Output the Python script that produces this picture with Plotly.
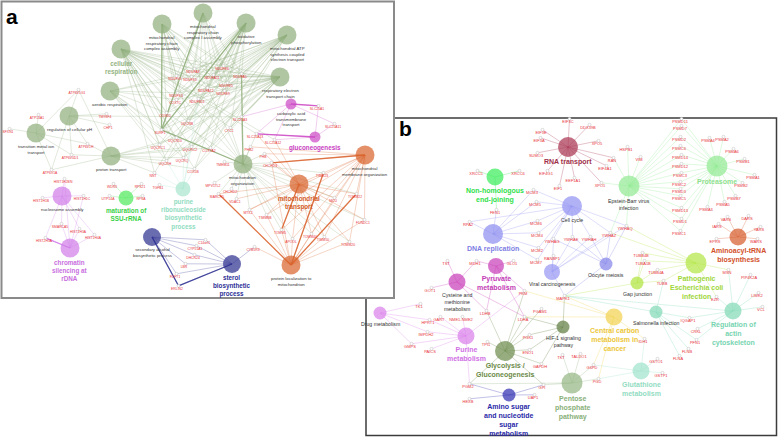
import plotly.graph_objects as go

# ================= PANEL a : GO biological process network =================
A_TERMS = [
    "mitochondrial<br>respiratory chain<br>complex assembly",
    "mitochondrial<br>respiratory chain<br>complex I assembly",
    "oxidative<br>phosphorylation",
    "mitochondrial ATP<br>synthesis coupled<br>electron transport",
    "respiratory electron<br>transport chain",
    "cellular<br>respiration",
    "aerobic respiration",
    "regulation of cellular pH",
    "transition metal ion<br>transport",
    "proton transport",
    "mitochondrion<br>organization",
    "carboxylic acid<br>transmembrane<br>transport",
    "gluconeogenesis",
    "mitochondrial<br>membrane organization",
    "mitochondrial<br>transport",
    "protein localization to<br>mitochondrion",
    "sterol<br>biosynthetic<br>process",
    "secondary alcohol<br>biosynthetic process",
    "nucleosome assembly",
    "chromatin<br>silencing at<br>rDNA",
    "maturation of<br>SSU-rRNA",
    "purine<br>ribonucleoside<br>biosynthetic<br>process",
]
A_GROUP = ["resp"] * 11 + ["gluc", "gluc", "mito", "mito", "mito", "sterol", "sterol",
                           "chrom", "chrom", "ssu", "pur"]
A_LEAD = [False, False, False, False, False, True, False, False, False, False, False,
          False, True, False, True, False, True, False, False, True, True, True]

NDUF = ["NDUFA8", "NDUFB6", "NDUFS1", "NDUFA11", "NDUFA5", "NDUFB5", "NDUFA12",
        "NDUFB9", "NDUFB11", "NDUFV1", "NDUFS3"]
CIII_IV = ["COX7C", "COX6C", "UQCRB", "SURF1", "UQCR10", "UQCRC1", "UQCRC2", "COX7A2",
           "CYC1", "UQCRH", "UQCRQ", "COX5B"]
VATP = ["ATP6V1G1", "ATP6V1H", "ATP6V0D1", "ATP6V1A"]
IMPORT = ["TIMM23", "MCU", "TOMM22", "FUNDC1", "TOMM20", "TIMM50", "TOMM40", "APOOL",
          "TOMM5", "TIMM8B", "MTX2"]
A_MEMBERS = [
    ["SURF1"] + NDUF + ["COX7C", "UQCRB", "COX6C"],
    NDUF + ["SURF1"],
    NDUF + CIII_IV + ["NNT"],
    NDUF + CIII_IV,
    NDUF + CIII_IV + ["SLC25A3"],
    NDUF + CIII_IV + ["SLC25A12", "SLC25A13", "NNT"],
    ["SURF1", "UQCRC1", "UQCR10", "UQCRH", "COX6C", "NDUFS1", "NDUFV1", "NDUFS3", "COX7C", "UQCRQ"],
    ["ATP6V1G1", "TM9SF4", "CHP1", "ATP6V1H", "ATP6V0D1", "ATP6V1A", "SLC25A3"],
    ["ATP13A1", "SFXN1", "ATP6V1G1", "ATP6V1H", "ATP6V0D1", "ATP6V1A"],
    VATP + ["NNT", "UQCRH", "UQCRQ", "COX5B", "UQCR10", "UQCRC1", "COX7A2", "UQCRC2"],
    ["PHB", "PHB2", "CHCHD3", "TMEM11", "MPV17L2", "CHCHD2", "MARCH5", "VDAC1", "SURF1",
     "SLC25A3", "CYC1", "SLC25A13"] + IMPORT + ["NDUFB11", "NDUFA12", "NDUFS3", "COX6C"],
    ["SLC25A1", "SLC25A11", "SLC25A13", "SLC25A12", "SLC25A3"],
    ["SLC25A1", "SLC25A11", "SLC25A13", "SLC25A12"],
    ["CHCHD3", "PHB", "PHB2"] + IMPORT,
    IMPORT + ["CHCHD3", "PHB", "MARCH5", "SLC25A12", "SLC25A13", "VDAC1"],
    IMPORT + ["MARCH5", "CYB5R3", "CHCHD3"],
    ["C14orf1", "CYP51A1", "DHCR24", "LBR", "FDFT1", "ERLIN2", "CYB5R3"],
    ["C14orf1", "CYP51A1", "DHCR24", "LBR", "FDFT1", "ERLIN2"],
    ["HIST1H2BN", "HIST1H1B", "HIST1H1C", "SMARCA5", "HIST1H3A", "HIST2H3A", "HIST1H4A"],
    ["SMARCA5", "HIST1H3A", "HIST2H3A", "HIST1H4A", "HIST1H2BN", "HIST1H1C"],
    ["WDR3", "RPS21", "UTP14A", "RPSA"],
    ["TGFB1", "NNT", "UQCRH", "UQCRQ", "COX5B", "UQCRC2", "NDUFB11"],
]
A_STRONG = [(0, "SURF1"), (1, "SURF1"), (2, "SURF1"), (10, "SURF1"), (10, "NDUFA5"),
            (13, "CHCHD3"), (15, "MARCH5"), (15, "TOMM22"), (15, "TIMM23"), (14, "TOMM5"),
            (16, "ERLIN2"), (17, "ERLIN2"), (19, "HIST2H3A"), (11, "SLC25A1"), (12, "SLC25A13")]

# layout (pixel positions of the published network)
A_TERM_POS = [(162, 24), (203, 13), (246, 23), (287, 35), (280, 77), (121, 49), (110, 91),
              (69, 116), (36, 133), (111, 156), (243, 164), (291, 104), (315, 137),
              (365, 155), (299, 184), (291, 265), (232, 264), (152, 237), (62, 196),
              (70, 248), (126, 198), (183, 189)]
A_TERM_SIZE = [19, 19, 19, 19, 19, 19, 19, 19, 19, 19, 19, 11, 11, 19, 19, 19, 18, 18,
               19, 19, 15, 15]
A_GENE_POS = {
    "ATP6V1G1": (77, 93), "ATP13A1": (37, 118), "SFXN1": (8, 132), "TM9SF4": (105, 117),
    "CHP1": (108, 128), "ATP6V1H": (86, 147), "ATP6V0D1": (70, 158), "ATP6V1A": (50, 173),
    "HIST1H2BN": (63, 182), "HIST1H1B": (41, 201), "HIST1H1C": (82, 199),
    "SMARCA5": (60, 227), "HIST1H3A": (78, 232), "HIST2H3A": (44, 241),
    "HIST1H4A": (93, 238), "WDR3": (112, 187), "RPS21": (140, 187), "UTP14A": (108, 199),
    "RPSA": (141, 199), "TGFB1": (158, 188), "NNT": (153, 176), "UQCRH": (165, 164),
    "UQCRQ": (182, 161), "COX5B": (193, 172), "NDUFA8": (193, 72), "NDUFB6": (222, 69),
    "NDUFS1": (190, 80), "NDUFA11": (212, 78), "NDUFA5": (240, 77), "NDUFB5": (226, 86),
    "NDUFA12": (206, 91), "NDUFB9": (223, 94), "NDUFB11": (197, 102), "NDUFV1": (175, 79),
    "NDUFS3": (176, 96), "COX7C": (175, 103), "COX6C": (165, 116), "UQCRB": (187, 124),
    "SURF1": (160, 133), "UQCR10": (175, 141), "UQCRC1": (158, 148), "UQCRC2": (190, 150),
    "COX7A2": (209, 151), "SLC25A3": (240, 120), "CYC1": (229, 131), "SLC25A13": (255, 137),
    "SLC25A12": (273, 143), "SLC25A1": (317, 109), "SLC25A11": (333, 127), "PHB2": (249, 150),
    "PHB": (263, 157), "CHCHD3": (270, 166), "TMEM11": (223, 165), "MPV17L2": (213, 186),
    "CHCHD2": (230, 192), "MARCH5": (217, 197), "VDAC1": (235, 202), "MTX2": (248, 213),
    "TIMM8B": (265, 218), "TOMM5": (280, 233), "APOOL": (291, 242), "TOMM40": (310, 237),
    "TIMM50": (323, 240), "TOMM20": (348, 245), "MCU": (333, 201), "TOMM22": (355, 197),
    "TIMM23": (322, 176), "FUNDC1": (363, 223), "CYB5R3": (253, 250), "C14orf1": (204, 243),
    "CYP51A1": (195, 249), "DHCR24": (193, 258), "LBR": (184, 267), "FDFT1": (175, 277),
    "ERLIN2": (177, 289),
}

# ================= PANEL b : KEGG pathway network =================
B_TERMS = [
    "RNA transport", "Non-homologous<br>end-joining", "Cell cycle", "DNA replication",
    "Viral carcinogenesis", "Oocyte meiosis", "Epstein-Barr virus<br>infection",
    "Proteasome", "Aminoacyl-tRNA<br>biosynthesis",
    "Pathogenic<br>Escherichia coli<br>infection", "Gap junction",
    "Regulation of<br>actin<br>cytoskeleton", "Salmonella infection",
    "Glutathione<br>metabolism", "Central carbon<br>metabolism in<br>cancer",
    "Pentose<br>phosphate<br>pathway", "Glycolysis /<br>Gluconeogenesis",
    "HIF-1 signaling<br>pathway", "Pyruvate<br>metabolism",
    "Cysteine and<br>methionine<br>metabolism", "Purine<br>metabolism", "Drug metabolism",
    "Amino sugar<br>and nucleotide<br>sugar<br>metabolism",
]
B_LEAD = [True, True, False, True, False, False, False, True, True, True, False, True,
          False, True, True, True, True, False, True, False, True, False, True]
PSMD_C = ["PSMD11", "PSMD7", "PSMD2", "PSMC6", "PSMD14", "PSMD12", "PSMC3", "PSMC2",
          "PSMD3", "PSMC5", "PSMD13", "PSMD1", "PSMC1"]
PSMA_B = ["PSMA4", "PSMA2", "PSMA6", "PSMB1", "PSMA1", "PSMB2", "PSMB7", "PSMA5", "PSMA3"]
MCMS = ["MCM3", "MCM5", "MCM6", "MCM4", "MCM2", "MCM7"]
YWHA = ["YWHAG", "YWHAE", "YWHAH", "YWHAZ", "YWHAQ"]
TUBS = ["TUBB4B", "TUBA1B", "TUBB4A", "TUBB"]
B_MEMBERS = [
    ["EIF3E", "EIF3C", "DDX39B", "EIF3A", "SUMO3", "EIF4G1", "EEF1A1", "EIF1", "XPO5", "RAN",
     "EIF4A1", "XPO1"],
    ["XRCC5", "XRCC6", "FEN1"],
    MCMS + YWHA + ["RPA2"],
    ["FEN1", "RPA2"] + MCMS,
    YWHA + ["RANBP1", "MAPK1"],
    YWHA + ["MAPK1"],
    ["HSPB1", "VIM", "RAN", "XPO1"] + PSMD_C + ["YWHAZ", "YWHAQ"],
    PSMD_C + PSMA_B,
    ["VARS", "DARS", "IARS", "YARS", "WARS", "EPRS"],
    TUBS + ["EZR", "YWHAZ", "YWHAQ", "MSN"],
    TUBS + ["MAPK1"],
    ["MSN", "PIP4K2A", "LIMK2", "VCL", "EZR", "IQGAP1", "CRKL", "PFN1", "MAPK1"],
    ["FLNA", "FLNB", "PFN1", "IQGAP1", "TUBB", "MAPK1"],
    ["IDH1", "GSTO1", "GSTP1", "PGD", "G6PD"],
    ["MAPK1", "PKM", "LDHA", "IDH1", "G6PD", "PGD"],
    ["TKT", "TALDO1", "G6PD", "PGD", "GPI", "PGM2"],
    ["LDHA", "LDHB", "PKM", "PGK1", "ENO1", "GAPDH", "TPI1", "GPI", "PGM2", "PGAM1"],
    ["LDHA", "PGK1", "ENO1", "GAPDH", "MAPK1"],
    ["MDH1", "GLO1", "PKM", "LDHA", "LDHB"],
    ["TST", "MDH1", "GOT1", "LDHB", "LDHA"],
    ["NME1-NME2", "GART", "HPRT1", "IMPDH2", "GMPS", "PAICS", "PGM2", "PKM"],
    ["TK1", "HPRT1", "IMPDH2", "GMPS"],
    ["PGM2", "HEXB", "GPI", "UAP1"],
]
B_TERM_POS = [(568, 147), (495, 177), (572, 206), (493, 234), (552, 272), (606, 264),
              (629, 186), (717, 166), (738, 237), (696, 263), (637, 283), (733, 311),
              (656, 312), (641, 371), (614, 317), (572, 383), (505, 351), (563, 327),
              (496, 266), (457, 282), (466, 336), (380, 313), (509, 395)]
B_TERM_SIZE = [20, 17, 20, 20, 16, 13, 21, 21, 17, 21, 13, 17, 13, 17, 17, 21, 20, 13,
               16, 17, 17, 13, 13]
B_NODE_COLOR = ["#a8324f", "#38ec58", "#9090f2", "#8c8cf0", "#9494f2", "#8282ea", "#90ea92",
                "#90ea92", "#d65a2a", "#b2e642", "#aee43c", "#80d9b6", "#80d9b6", "#9ee2ca",
                "#f2d24e", "#93b582", "#6b8a4a", "#5e7b3e", "#c83ab6", "#c83ab6", "#d97dea",
                "#d97dea", "#2e2eb0"]
B_GENE_POS = {
    "EIF3E": (541, 133), "EIF3C": (568, 122), "DDX39B": (588, 128), "EIF3A": (539, 141),
    "SUMO3": (536, 156), "EIF4G1": (546, 174), "EEF1A1": (573, 181), "EIF1": (558, 189),
    "XPO5": (597, 144), "RAN": (612, 161), "EIF4A1": (605, 169), "XPO1": (600, 186),
    "HSPB1": (626, 150), "VIM": (639, 160), "XRCC5": (476, 174), "XRCC6": (518, 174),
    "FEN1": (495, 213), "RPA2": (468, 225), "MCM3": (532, 193), "MCM5": (535, 205),
    "MCM6": (536, 224), "MCM4": (537, 236), "MCM2": (537, 251), "MCM7": (536, 263),
    "YWHAG": (552, 242), "YWHAE": (571, 240), "YWHAH": (589, 240), "YWHAZ": (609, 236),
    "YWHAQ": (625, 229), "RANBP1": (552, 259), "MAPK1": (563, 299),
    "PSMD11": (680, 122), "PSMD7": (680, 129), "PSMD2": (679, 140), "PSMC6": (679, 149),
    "PSMD14": (680, 158), "PSMD12": (680, 167), "PSMC3": (680, 176), "PSMC2": (679, 185),
    "PSMD3": (679, 192), "PSMC5": (679, 199), "PSMD13": (680, 211), "PSMD1": (680, 222),
    "PSMC1": (679, 234), "PSMA4": (708, 141), "PSMA2": (722, 140), "PSMA6": (732, 152),
    "PSMB1": (743, 162), "PSMA1": (753, 178), "PSMB2": (741, 186), "PSMB7": (734, 199),
    "PSMA5": (723, 205), "PSMA3": (706, 210), "VARS": (726, 220), "DARS": (747, 219),
    "IARS": (717, 227), "YARS": (759, 230), "WARS": (756, 242), "EPRS": (715, 242),
    "TUBB4B": (641, 256), "TUBA1B": (643, 264), "TUBB4A": (656, 273), "TUBB": (662, 284),
    "MSN": (727, 273), "PIP4K2A": (749, 278), "LIMK2": (757, 296), "VCL": (761, 310),
    "EZR": (715, 300), "IQGAP1": (688, 321), "CRKL": (696, 332), "PFN1": (695, 343),
    "FLNB": (687, 352), "FLNA": (678, 359), "IDH1": (643, 342), "GSTO1": (656, 362),
    "GSTP1": (661, 376), "PGD": (597, 382), "G6PD": (592, 368), "TKT": (561, 358),
    "TALDO1": (579, 357), "GPI": (542, 388), "UAP1": (533, 398), "PGM2": (468, 387),
    "HEXB": (468, 402), "PGK1": (528, 338), "ENO1": (528, 353), "GAPDH": (540, 367),
    "TPI1": (486, 345), "LDHA": (523, 320), "LDHB": (485, 314), "PGAM1": (540, 312),
    "PKM": (523, 294), "MDH1": (475, 264), "GLO1": (512, 264), "TST": (446, 264),
    "GOT1": (430, 291), "TK1": (419, 307), "HPRT1": (428, 323), "GART": (439, 320),
    "NME1-NME2": (461, 320), "IMPDH2": (426, 335), "GMPS": (410, 347), "PAICS": (430, 352),
}

# ---------------- styles ----------------
A_NODE_COLOR = {"resp": "#8fae7a", "gluc": "#cc48c4", "mito": "#d9622b", "sterol": "#2b2e8f",
                "chrom": "#d07ae8", "ssu": "#4de85a", "pur": "#a8e6cf"}
A_LABEL_COLOR = {"resp": "#93b382", "gluc": "#c83cbf", "mito": "#d45a26", "sterol": "#2c2f96",
                 "chrom": "#c86ee0", "ssu": "#3ad046", "pur": "#8fdcc0"}
FONT = "Liberation Sans, Arial, sans-serif"
GENE_RED = "#e8333a"


def rgba(hexc, a):
    h = hexc.lstrip("#")
    return "rgba(%d,%d,%d,%.2f)" % (int(h[0:2], 16), int(h[2:4], 16), int(h[4:6], 16), a)


def gnode(p):
    return (p[0] + 1.5, p[1] - 3.2)


fig = go.Figure()
annotations = []


def add_panel(terms, members, tpos, tsize, node_colors, label_colors, lead, gpos,
              strong, gfont, nfont, bfont, alpha):
    # edges
    for i, genes in enumerate(members):
        xs, ys = [], []
        for g in genes:
            gx, gy = gnode(gpos[g])
            xs += [tpos[i][0], gx, None]
            ys += [tpos[i][1], gy, None]
        fig.add_trace(go.Scatter(x=xs, y=ys, mode="lines", hoverinfo="skip",
                                 line=dict(color=rgba(node_colors[i], alpha), width=0.6)))
    for (i, g) in strong:
        gx, gy = gnode(gpos[g])
        fig.add_trace(go.Scatter(x=[tpos[i][0], gx], y=[tpos[i][1], gy], mode="lines",
                                 hoverinfo="skip",
                                 line=dict(color=rgba(node_colors[i], 0.85), width=1.3)))
    # gene nodes and labels
    names = list(gpos.keys())
    fig.add_trace(go.Scatter(x=[gnode(gpos[n])[0] for n in names],
                             y=[gnode(gpos[n])[1] for n in names], mode="markers",
                             hoverinfo="skip",
                             marker=dict(size=3, color="white",
                                         line=dict(color="#b8b8b8", width=0.5))))
    fig.add_trace(go.Scatter(x=[gpos[n][0] for n in names], y=[gpos[n][1] for n in names],
                             mode="text", text=names, hoverinfo="skip",
                             textfont=dict(size=gfont, color=GENE_RED, family=FONT)))
    # term nodes
    fig.add_trace(go.Scatter(x=[p[0] for p in tpos], y=[p[1] for p in tpos], mode="markers",
                             hoverinfo="skip",
                             marker=dict(size=tsize, color=node_colors, line=dict(width=0))))
    for i, t in enumerate(terms):
        if lead[i]:
            txt, fs, col = "<b>" + t + "</b>", bfont, label_colors[i]
        else:
            txt, fs, col = t, nfont, "#333333"
        annotations.append(dict(x=tpos[i][0], y=tpos[i][1] + tsize[i] / 2 + 0.3,
                                xref="x", yref="y", text=txt, showarrow=False,
                                xanchor="center", yanchor="top", align="center",
                                borderpad=0,
                                font=dict(size=fs, color=col, family=FONT)))


add_panel(A_TERMS, A_MEMBERS, A_TERM_POS, A_TERM_SIZE,
          [A_NODE_COLOR[g] for g in A_GROUP], [A_LABEL_COLOR[g] for g in A_GROUP],
          A_LEAD, A_GENE_POS, A_STRONG, 3.4, 4.3, 6.3, 0.45)

B_LABEL_COLOR = ["#a0304a", "#2ee04a", "#333", "#7e7ee4", "#333", "#333", "#333",
                 "#8ee08e", "#d2502a", "#9ed63a", "#333", "#76d4b0", "#333", "#92dcc2",
                 "#ecc63a", "#89b07a", "#6b8a47", "#333", "#c43cb6", "#333", "#d070e4",
                 "#333", "#2a2aa8"]
add_panel(B_TERMS, B_MEMBERS, B_TERM_POS, B_TERM_SIZE, B_NODE_COLOR, B_LABEL_COLOR,
          B_LEAD, B_GENE_POS, [], 4.0, 5.2, 7.0, 0.5)

annotations.append(dict(x=12, y=16, xref="x", yref="y", text="<b>a</b>", showarrow=False,
                        font=dict(size=21, color="black", family=FONT)))
annotations.append(dict(x=405, y=128, xref="x", yref="y", text="<b>b</b>", showarrow=False,
                        font=dict(size=21, color="black", family=FONT)))

shapes = [
    dict(type="rect", xref="x", yref="y", x0=366, y0=118, x1=776.5, y1=435.5,
         line=dict(color="#3c3c3c", width=1.5), fillcolor="white", layer="below"),
    dict(type="rect", xref="x", yref="y", x0=1.5, y0=1.5, x1=394, y1=298,
         line=dict(color="#8a8a8a", width=2), fillcolor="white", layer="below"),
]

fig.update_layout(
    width=778, height=438, margin=dict(l=0, r=0, t=0, b=0),
    paper_bgcolor="white", plot_bgcolor="white", showlegend=False,
    xaxis=dict(range=[0, 778], visible=False, fixedrange=True),
    yaxis=dict(range=[438, 0], visible=False, fixedrange=True),
    annotations=annotations, shapes=shapes,
)
fig.write_html("out.html", config={"displayModeBar": False},
               post_script="document.body.style.margin='0';document.body.style.overflow='hidden';")
